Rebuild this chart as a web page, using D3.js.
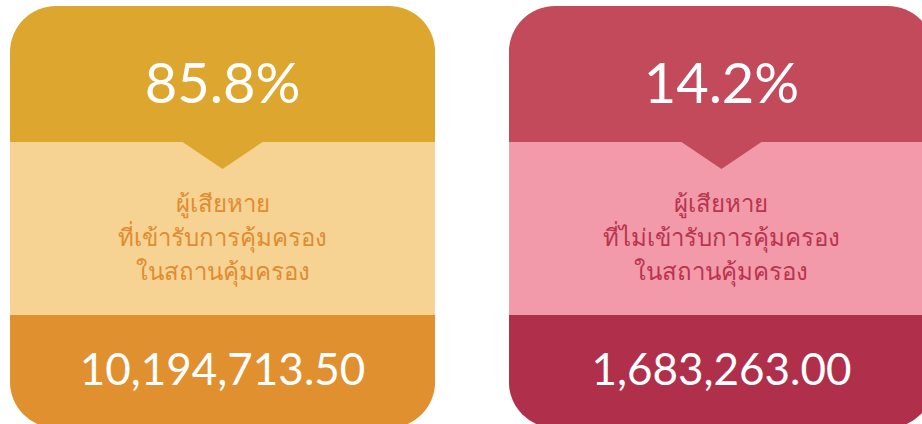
<!DOCTYPE html>
<html>
<head>
<meta charset="utf-8">
<script src="https://cdn.jsdelivr.net/npm/d3@7"></script>
<style>
  body { margin: 0; background: #fff; }
</style>
</head>
<body>
<div id="chart"></div>
<script>
// data
let shares = ["85.8%", "14.2%"];
let amounts = [10194713.5, 1683263.0];
let labels = [
  ["ผู้เสียหาย", "ที่เข้ารับการคุ้มครอง", "ในสถานคุ้มครอง"],
  ["ผู้เสียหาย", "ที่ไม่เข้ารับการคุ้มครอง", "ในสถานคุ้มครอง"],
];
let topColors = ["#dda62f", "#c24a5a"];
let midColors = ["#f6d393", "#f29aa9"];
let botColors = ["#e0902f", "#b02f4a"];
let textColors = ["#e08c30", "#b8344f"];

let width = 922, height = 424;
let cardTop = 6, cardH = 422, radius = 46;
let topBand = 136, midBand = 173; // heights
let fmt = d3.format(",.2f");

let svg = d3.select("#chart").append("svg")
  .attr("width", width).attr("height", height);

// two cards, 425 wide, second one runs off the right edge
let x = d3.scaleBand().domain([0, 1]).range([10, 934]).paddingInner(0.148);

let defs = svg.append("defs");
let cards = svg.selectAll("g.card")
  .data(shares.map((s, i) => i))
  .enter().append("g")
  .attr("class", "card")
  .attr("transform", (i) => `translate(${x(i)},${cardTop})`);

cards.each(function (i) {
  let g = d3.select(this);
  let w = x.bandwidth();
  defs.append("clipPath").attr("id", "clip" + i)
    .append("rect").attr("width", w).attr("height", cardH)
    .attr("rx", radius).attr("ry", radius);
  let inner = g.append("g").attr("clip-path", `url(#clip${i})`);
  inner.append("rect").attr("width", w).attr("height", topBand).attr("fill", topColors[i]);
  inner.append("rect").attr("y", topBand).attr("width", w).attr("height", midBand).attr("fill", midColors[i]);
  inner.append("rect").attr("y", topBand + midBand).attr("width", w)
    .attr("height", cardH - topBand - midBand).attr("fill", botColors[i]);
  // little pointer below the top band
  inner.append("path")
    .attr("d", `M${w / 2 - 40},${topBand} L${w / 2 + 40},${topBand} L${w / 2},${topBand + 27} Z`)
    .attr("fill", topColors[i]);

  g.append("text")
    .attr("x", w / 2).attr("y", 97)
    .attr("text-anchor", "middle")
    .attr("fill", "#fff")
    .attr("font-family", "Lato, 'Noto Sans', sans-serif")
    .attr("font-size", 56)
    .text(shares[i]);

  g.append("g").selectAll("text")
    .data(labels[i]).enter().append("text")
    .attr("x", w / 2)
    .attr("y", (d, k) => 206 + k * 34)
    .attr("text-anchor", "middle")
    .attr("fill", textColors[i])
    .attr("font-family", "'Noto Sans', 'DejaVu Sans', sans-serif")
    .attr("font-size", 24)
    .attr("font-weight", 500)
    .text((d) => d);

  g.append("text")
    .attr("x", w / 2).attr("y", 379)
    .attr("text-anchor", "middle")
    .attr("fill", "#fff")
    .attr("font-family", "Lato, 'Noto Sans', sans-serif")
    .attr("font-size", 44)
    .text(fmt(amounts[i]));
});
</script>
</body>
</html>
